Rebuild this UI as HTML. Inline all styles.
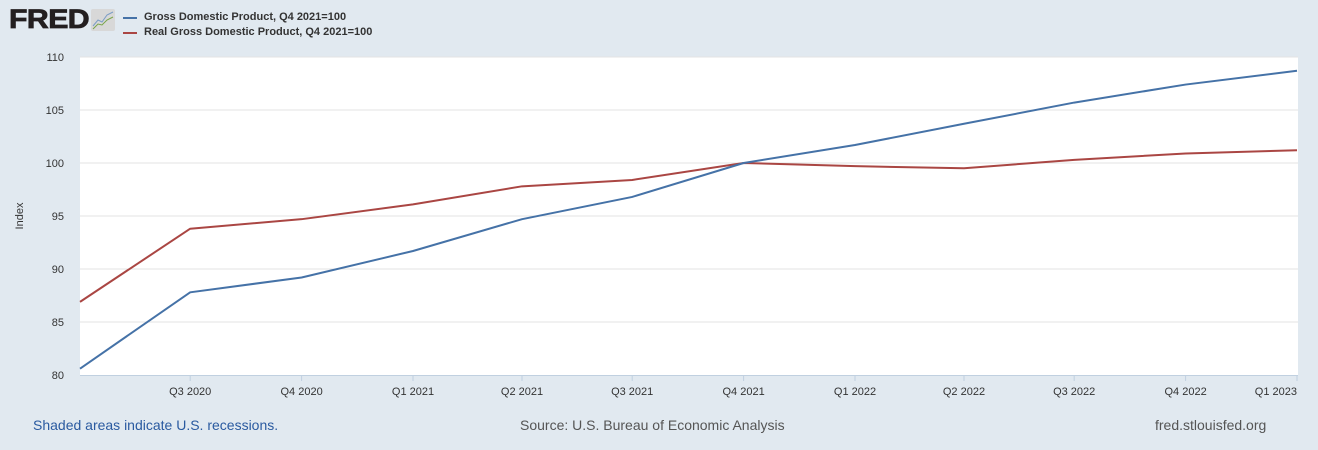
<!DOCTYPE html>
<html><head><meta charset="utf-8"><style>
body{margin:0;width:1318px;height:450px;background:#e1e9f0;font-family:"Liberation Sans",Arial,sans-serif;overflow:hidden;position:relative}
.t{position:absolute;white-space:nowrap}
</style></head><body>
<div class="t" style="left:9px;top:4px;font-size:27px;font-weight:bold;color:#231f20;letter-spacing:-0.5px;transform:scaleX(1.12);transform-origin:left top;-webkit-text-stroke:0.8px #231f20">FRED</div>
<svg style="position:absolute;left:91px;top:9px" width="24" height="22"><rect width="24" height="22" rx="2" fill="#d8d8d8"/><polyline points="2,17 7,11 11,13 16,6 22,3" fill="none" stroke="#7a9cc6" stroke-width="1"/><polyline points="2,20 7,15 11,16 16,11 22,8" fill="none" stroke="#7aa54a" stroke-width="1"/></svg>
<svg style="position:absolute;left:123px;top:17px" width="14" height="3"><rect width="14" height="2" fill="#4572a7"/></svg>
<div class="t" style="left:144px;top:11px;font-size:11px;font-weight:bold;color:#333">Gross Domestic Product, Q4 2021=100</div>
<svg style="position:absolute;left:123px;top:32px" width="14" height="3"><rect width="14" height="2" fill="#aa4643"/></svg>
<div class="t" style="left:144px;top:26px;font-size:11px;font-weight:bold;color:#333">Real Gross Domestic Product, Q4 2021=100</div>
<svg id="chart" style="position:absolute;left:0;top:0" width="1318" height="450"></svg>
<div class="t" style="left:33px;top:417px;font-size:14px;color:#2a5aa0">Shaded areas indicate U.S. recessions.</div>
<div class="t" style="left:520px;top:417px;font-size:14px;color:#555">Source: U.S. Bureau of Economic Analysis</div>
<div class="t" style="left:1155px;top:417px;font-size:14px;color:#555">fred.stlouisfed.org</div>
<script>
const dates=["2020-04-01","2020-07-01","2020-10-01","2021-01-01","2021-04-01","2021-07-01","2021-10-01","2022-01-01","2022-04-01","2022-07-01","2022-10-01","2023-01-01"];
const gdp=[80.6,87.8,89.2,91.7,94.7,96.8,100.0,101.7,103.7,105.7,107.4,108.7];
const realGdp=[86.9,93.8,94.7,96.1,97.8,98.4,100.0,99.7,99.5,100.3,100.9,101.2];
const yTicks=[80,85,90,95,100,105,110];
const xTickLabels=["Q3 2020","Q4 2020","Q1 2021","Q2 2021","Q3 2021","Q4 2021","Q1 2022","Q2 2022","Q3 2022","Q4 2022","Q1 2023"];
const NS="http://www.w3.org/2000/svg";
const svg=document.getElementById('chart');
const L=80,R=1297,T=57,B=375;
const t0=Date.parse(dates[0]),t1=Date.parse(dates[dates.length-1]);
const xs=d=>L+(Date.parse(d)-t0)/(t1-t0)*(R-L);
const ys=v=>B-(v-80)/(110-80)*(B-T);
function mk(tag,attrs){const e=document.createElementNS(NS,tag);for(const k in attrs)e.setAttribute(k,attrs[k]);svg.appendChild(e);return e;}
const bg=mk('rect',{x:L,y:T,width:1298-L,height:B-T,fill:'#fff'});


yTicks.forEach(v=>{
 if(v>80){const g=mk('line',{x1:L,x2:1298,y1:ys(v),y2:ys(v),stroke:'#e3e3e3','stroke-width':1});
 
 }
 const tx=mk('text',{x:64,y:ys(v)+4,'text-anchor':'end','font-size':11,fill:'#333','font-family':'Liberation Sans, sans-serif'});
 tx.textContent=v;
 
 
});
const ax=mk('line',{x1:L,x2:1298,y1:B+0.5,y2:B+0.5,stroke:'#c0d0e0','stroke-width':1});


xTickLabels.forEach((lab,i)=>{
 const x=xs(dates[i+1]);
 const tk=mk('line',{x1:x,x2:x,y1:B,y2:B+6,stroke:'#c0d0e0'});
 
 
 const tx=mk('text',{x:x,y:B+20,'text-anchor':i==xTickLabels.length-1?'end':'middle','font-size':11,fill:'#333','font-family':'Liberation Sans, sans-serif'});
 tx.textContent=lab;
 
 
});
const yt=mk('text',{x:0,y:0,transform:'translate(23,216) rotate(-90)','text-anchor':'middle','font-size':11,fill:'#333','font-family':'Liberation Sans, sans-serif'});
yt.textContent='Index';


function line(vals,color,name){
 const p=mk('polyline',{points:vals.map((v,i)=>xs(dates[i])+','+ys(v)).join(' '),fill:'none',stroke:color,'stroke-width':2,'stroke-linejoin':'round'});
 
 
}
line(realGdp,'#aa4643','series-real-gdp');
line(gdp,'#4572a7','series-gdp');
</script>
</body></html>
